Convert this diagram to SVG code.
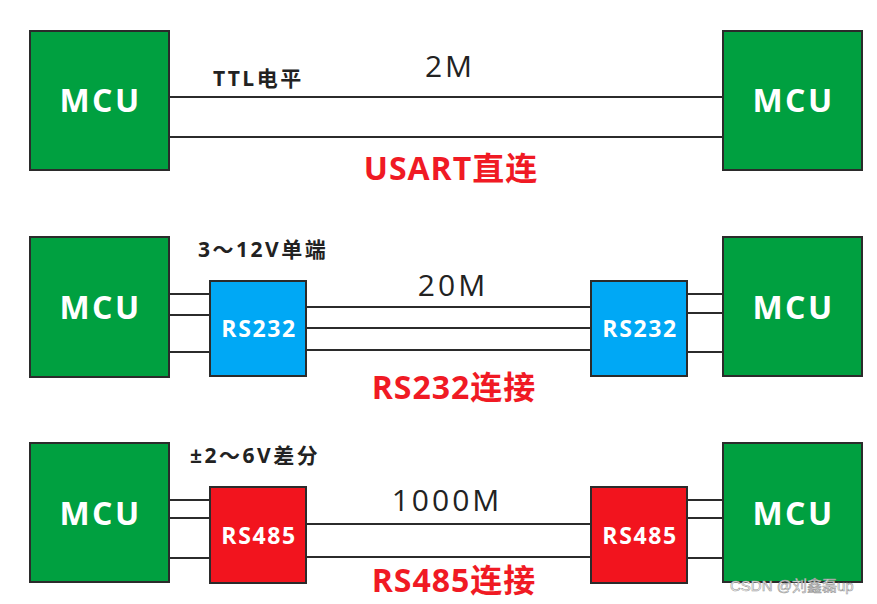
<svg xmlns="http://www.w3.org/2000/svg" width="877" height="604" viewBox="0 0 877 604">
<style>
.mcu{fill:#00A040;stroke:#2b2b2b;stroke-width:2}
.r232{fill:#00A8F5;stroke:#2b2b2b;stroke-width:2}
.r485{fill:#F2141E;stroke:#2b2b2b;stroke-width:2}
.w{stroke:#2b2b2b;stroke-width:2.2;fill:none}
.lbl{font-family:"Open Sans","Noto Sans CJK SC",sans-serif;font-weight:bold;fill:#fff;text-anchor:middle}
.big{font-size:32px;letter-spacing:2.5px}
.sm{font-size:23px;letter-spacing:1.6px}
.note{font-family:"Open Sans","Noto Sans CJK SC",sans-serif;font-weight:bold;fill:#222;font-size:21px;letter-spacing:2.5px}
.rate{font-family:"Open Sans","Noto Sans CJK SC",sans-serif;fill:#222;font-size:30px;letter-spacing:3px;text-anchor:middle}
.title{font-family:"Open Sans","Noto Sans CJK SC",sans-serif;font-weight:bold;fill:#F01A24;font-size:32px;letter-spacing:1px;text-anchor:middle}
</style>
<rect width="877" height="604" fill="#fff"/>
<g id="connectors">
<line class="w" x1="169" y1="97" x2="723" y2="97"/>
<line class="w" x1="169" y1="137" x2="723" y2="137"/>
<line class="w" x1="169" y1="294" x2="210" y2="294"/>
<line class="w" x1="169" y1="315" x2="210" y2="315"/>
<line class="w" x1="169" y1="352" x2="210" y2="352"/>
<line class="w" x1="306" y1="307" x2="591" y2="307"/>
<line class="w" x1="306" y1="328" x2="591" y2="328"/>
<line class="w" x1="306" y1="350" x2="591" y2="350"/>
<line class="w" x1="687" y1="294" x2="723" y2="294"/>
<line class="w" x1="687" y1="313" x2="723" y2="313"/>
<line class="w" x1="687" y1="352" x2="723" y2="352"/>
<line class="w" x1="169" y1="500" x2="210" y2="500"/>
<line class="w" x1="169" y1="518" x2="210" y2="518"/>
<line class="w" x1="169" y1="558" x2="210" y2="558"/>
<line class="w" x1="306" y1="524" x2="591" y2="524"/>
<line class="w" x1="306" y1="557" x2="591" y2="557"/>
<line class="w" x1="687" y1="500" x2="723" y2="500"/>
<line class="w" x1="687" y1="518" x2="723" y2="518"/>
<line class="w" x1="687" y1="558" x2="723" y2="558"/>
</g>
<g id="mcu1l"><rect class="mcu" x="30" y="31" width="139" height="139"/><text class="lbl big" x="100.5" y="112">MCU</text></g>
<g id="mcu1r"><rect class="mcu" x="723" y="31" width="139" height="139"/><text class="lbl big" x="793.5" y="112">MCU</text></g>
<g id="mcu2l"><rect class="mcu" x="30" y="237" width="139" height="140"/><text class="lbl big" x="100.5" y="319">MCU</text></g>
<g id="mcu2r"><rect class="mcu" x="723" y="237" width="139" height="139"/><text class="lbl big" x="793.5" y="319">MCU</text></g>
<g id="mcu3l"><rect class="mcu" x="30" y="443" width="139" height="139"/><text class="lbl big" x="100.5" y="525">MCU</text></g>
<g id="mcu3r"><rect class="mcu" x="723" y="443" width="139" height="139"/><text class="lbl big" x="793.5" y="525">MCU</text></g>
<g id="rs232l"><rect class="r232" x="210" y="281" width="96" height="95"/><text class="lbl sm" x="259" y="337">RS232</text></g>
<g id="rs232r"><rect class="r232" x="591" y="281" width="96" height="95"/><text class="lbl sm" x="640" y="337">RS232</text></g>
<g id="rs485l"><rect class="r485" x="210" y="487" width="96" height="96"/><text class="lbl sm" x="259" y="544">RS485</text></g>
<g id="rs485r"><rect class="r485" x="591" y="487" width="96" height="96"/><text class="lbl sm" x="640" y="544">RS485</text></g>
<text class="note" x="213" y="86" font-size="22">TTL电平</text>
<text class="rate" x="450" y="77">2M</text>
<text class="title" x="451" y="180">USART直连</text>
<text class="note" x="198" y="257">3～12V单端</text>
<text class="rate" x="453" y="296">20M</text>
<text class="title" x="454" y="399">RS232连接</text>
<text class="note" x="190" y="463">±2～6V差分</text>
<text class="rate" x="447" y="511">1000M</text>
<text class="title" x="454" y="592">RS485连接</text>
<text x="730" y="591" font-family="'Liberation Sans','Noto Sans CJK SC',sans-serif" font-size="15" fill="#fff" stroke="#999" stroke-width="0.6">CSDN @刘鑫磊up</text>
</svg>
